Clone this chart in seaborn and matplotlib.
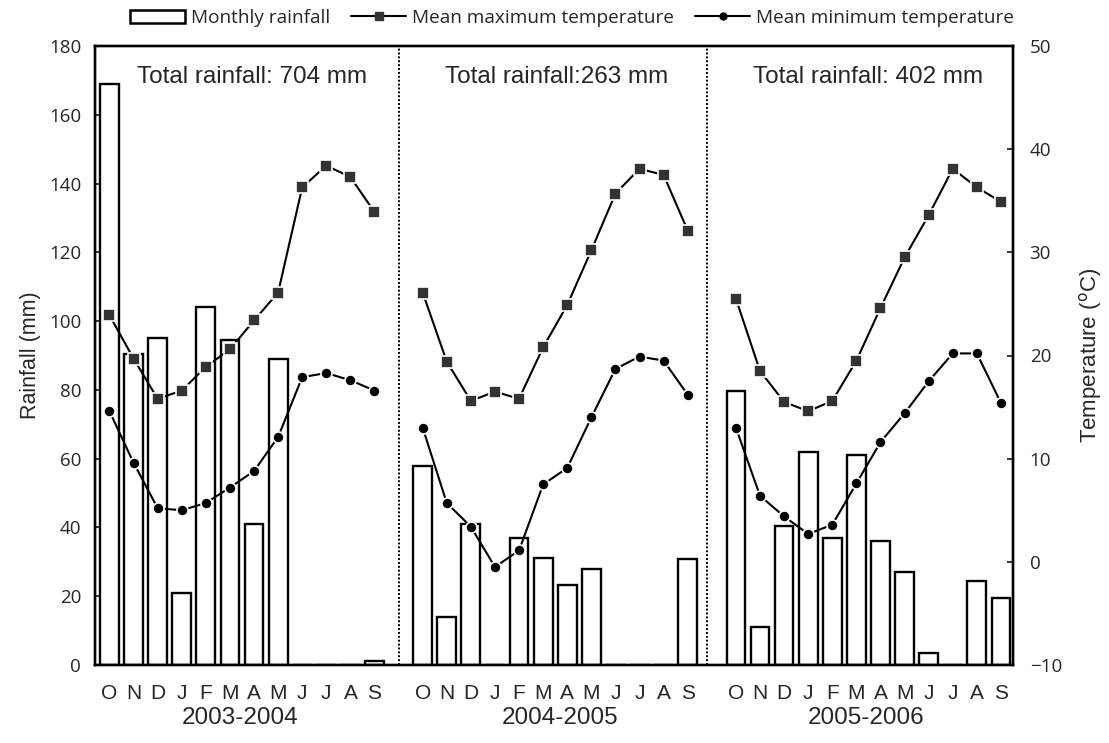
import numpy as np
import pandas as pd
import matplotlib
matplotlib.use("Agg")
import matplotlib.pyplot as plt
import seaborn as sns
from matplotlib.patches import Patch
from matplotlib.lines import Line2D

months = ["O", "N", "D", "J", "F", "M", "A", "M", "J", "J", "A", "S"]
seasons = ["2003-2004", "2004-2005", "2005-2006"]
totals = ["Total rainfall: 704 mm", "Total rainfall:263 mm", "Total rainfall: 402 mm"]

rain_2003 = [169, 90.5, 95, 21, 104, 94.5, 41, 89, 0, 0, 0, 1.2]
rain_2004 = [58, 14, 41, 0, 37, 31, 23.2, 28, 0, 0, 0, 30.8]
rain_2005 = [79.6, 11, 40.4, 62, 36.9, 61, 36.1, 27, 3.6, 0, 24.5, 19.5]

tmax_2003 = [23.9, 19.7, 15.8, 16.6, 18.9, 20.6, 23.4, 26.1, 36.3, 38.4, 37.3, 33.9]
tmax_2004 = [26.1, 19.4, 15.6, 16.5, 15.8, 20.8, 24.9, 30.2, 35.7, 38.1, 37.5, 32.1]
tmax_2005 = [25.5, 18.5, 15.5, 14.6, 15.6, 19.5, 24.6, 29.5, 33.6, 38.1, 36.3, 34.9]

tmin_2003 = [14.6, 9.6, 5.2, 5.0, 5.7, 7.2, 8.8, 12.1, 17.9, 18.3, 17.6, 16.6]
tmin_2004 = [13.0, 5.7, 3.4, -0.5, 1.1, 7.5, 9.1, 14.0, 18.7, 19.9, 19.5, 16.2]
tmin_2005 = [13.0, 6.4, 4.4, 2.7, 3.6, 7.6, 11.6, 14.4, 17.5, 20.2, 20.2, 15.4]

rain = [rain_2003, rain_2004, rain_2005]
tmax = [tmax_2003, tmax_2004, tmax_2005]
tmin = [tmin_2003, tmin_2004, tmin_2005]

rows = []
for s, season in enumerate(seasons):
    for m, mon in enumerate(months):
        rows.append(dict(season=season, pos=13 * s + m, month=mon,
                         rain=rain[s][m], tmax=tmax[s][m], tmin=tmin[s][m]))
df = pd.DataFrame(rows)

sns.set_style("white")
plt.rcParams["font.family"] = ["Open Sans", "DejaVu Sans"]
ARIAL = ["Liberation Sans", "DejaVu Sans"]

fig = plt.figure(figsize=(11.09, 7.43), dpi=100)
ax = fig.add_axes([95 / 1109, 78 / 743, 918 / 1109, 619 / 743])
ax2 = ax.twinx()

sns.barplot(data=df, x="pos", y="rain", native_scale=True, width=0.78,
            color="white", edgecolor="black", linewidth=1.7, ax=ax, zorder=2)

sns.lineplot(data=df, x="pos", y="tmax", units="season", estimator=None,
             color="black", linewidth=1.5, marker="s", markersize=8,
             markerfacecolor="#333333", markeredgecolor="white",
             markeredgewidth=1.2, ax=ax2, legend=False)
sns.lineplot(data=df, x="pos", y="tmin", units="season", estimator=None,
             color="black", linewidth=1.5, marker="o", markersize=8,
             markerfacecolor="black", markeredgecolor="white",
             markeredgewidth=1.2, ax=ax2, legend=False)

ax.set_xlim(-0.6, 37.5)
ax.set_ylim(0, 180)
ax.set_yticks(np.arange(0, 181, 20))
ax2.set_ylim(-10, 50)
ax2.set_yticks(np.arange(-10, 51, 10))

for xs in [12, 24.8]:
    ax.axvline(xs, color="black", linestyle=(0, (1, 1)), linewidth=1.4, zorder=1)

ax.set_xticks(df["pos"])
ax.set_xticklabels(df["month"], fontsize=15, family=ARIAL)
ax.tick_params(axis="x", length=0, pad=14)
ax.tick_params(axis="y", direction="in", length=4, width=1.3, labelsize=13.5, pad=10)
ax2.tick_params(axis="y", direction="in", length=4, width=1.3, labelsize=13.5, pad=12)
ax.set_xlabel("")
ax.set_ylabel("Rainfall (mm)", fontsize=15.5, family=ARIAL, labelpad=6)
ax2.set_ylabel(r"Temperature ($^{\rm o}$C)", fontsize=16, family=ARIAL, labelpad=11)

for a in (ax, ax2):
    for sp in a.spines.values():
        sp.set_linewidth(1.7)
        sp.set_color("black")

text_x = [5.9, 18.57, 31.49]
season_x = [5.4, 18.7, 31.4]
for s in range(3):
    ax.text(text_x[s], 171, totals[s], ha="center", va="center", fontsize=17.5,
            family=ARIAL)
    ax.text(season_x[s], -0.085, seasons[s], transform=ax.get_xaxis_transform(),
            ha="center", va="center", fontsize=17.5, family=ARIAL)

handles = [
    Patch(facecolor="white", edgecolor="black", linewidth=1.8),
    Line2D([], [], color="black", linewidth=1.5, marker="s", markersize=6,
           markerfacecolor="#333333", markeredgecolor="#333333"),
    Line2D([], [], color="black", linewidth=1.5, marker="o", markersize=5,
           markerfacecolor="black", markeredgecolor="black"),
]
labels = ["Monthly rainfall", "Mean maximum temperature", "Mean minimum temperature"]
fig.legend(handles, labels, loc="center right", bbox_to_anchor=(1014 / 1109, 1 - 18 / 743),
           ncol=3, frameon=False, fontsize=13.7, handlelength=2.9, handleheight=0.7,
           handletextpad=0.3, columnspacing=1.1, borderaxespad=0, borderpad=0)

fig.savefig("out.png", dpi=100)
